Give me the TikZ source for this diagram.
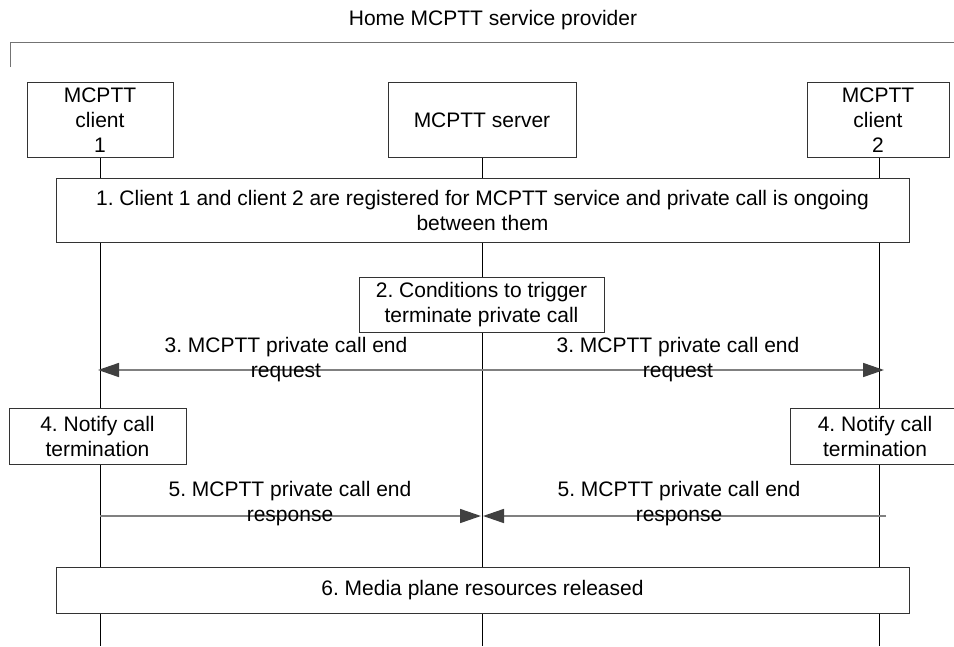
\documentclass[tikz,border=0pt]{standalone}
\usepackage{fontspec}
\setmainfont{Liberation Sans}
\usetikzlibrary{arrows.meta}
\frenchspacing
\begin{document}
\begin{tikzpicture}[x=1pt,y=-1pt,
  every node/.style={font=\fontsize{21}{25}\selectfont, align=center, inner sep=0pt},
  ent/.style={draw=black!80, line width=0.9pt, fill=white},
  life/.style={draw=black, line width=0.8pt},
  msg/.style={draw=black!50, line width=1.6pt, -{Triangle[length=21pt,width=14pt,fill=black!75,color=black!75]}},
  lbl/.style={}
]
\useasboundingbox (0,0) rectangle (954,646);
% title and bracket
\node (title) at (493,20) {Home MCPTT service provider};
\coordinate (brA) at (10.5,67);
\coordinate (brB) at (10.5,42.5);
\coordinate (brC) at (960,42.5);
\draw[draw=black!55, line width=1.8pt] (brA) -- (brB) -- (brC);
% entities
\node[ent, minimum width=146pt, minimum height=75pt] (c1) at (100,120) {MCPTT\\client\\1};
\node[ent, minimum width=188pt, minimum height=75pt] (srv) at (482,120) {MCPTT server};
\node[ent, minimum width=142pt, minimum height=75pt] (c2) at (878,120) {MCPTT\\client\\2};
% lifeline ends
\coordinate (c1e) at (100,646);
\coordinate (srve) at (482,646);
\coordinate (c2e) at (879,646);
\draw[life] (c1.south) -- (c1e);
\draw[life] (srv.south) -- (srve);
\draw[life] (c2.south -| c2e) -- (c2e);
% step 1
\node[ent, minimum width=853pt, minimum height=64pt] (s1) at (482.5,210) {1. Client 1 and client 2 are registered for MCPTT service and private call is ongoing\\between them};
% step 2
\node[ent, minimum width=245pt, minimum height=55pt] (s2) at (481.5,304.5) {2. Conditions to trigger\\terminate private call};
% step 3
\coordinate (m3s) at (482,370);
\coordinate (m3l) at (98,370);
\coordinate (m3r) at (884,370);
\draw[msg] (m3s) -- (m3l);
\draw[msg] (m3s) -- (m3r);
\node[lbl] (l3a) at (286,360) {3. MCPTT private call end\\request};
\node[lbl] (l3b) at (678,360) {3. MCPTT private call end\\request};
% step 4
\node[ent, minimum width=177pt, minimum height=56pt] (n4a) at (97.5,436) {4. Notify call\\termination};
\node[ent, minimum width=170pt, minimum height=56pt] (n4b) at (875,436) {4. Notify call\\termination};
% step 5
\coordinate (m5l) at (100,516);
\coordinate (m5tl) at (481,516);
\coordinate (m5tr) at (483,516);
\coordinate (m5r) at (886,516);
\draw[msg] (m5l) -- (m5tl);
\draw[msg] (m5r) -- (m5tr);
\node[lbl] (l5a) at (290,504) {5. MCPTT private call end\\response};
\node[lbl] (l5b) at (679,504) {5. MCPTT private call end\\response};
% step 6
\node[ent, minimum width=853pt, minimum height=46pt] (s6) at (482.5,590) {6. Media plane resources released};
\end{tikzpicture}
\end{document}
